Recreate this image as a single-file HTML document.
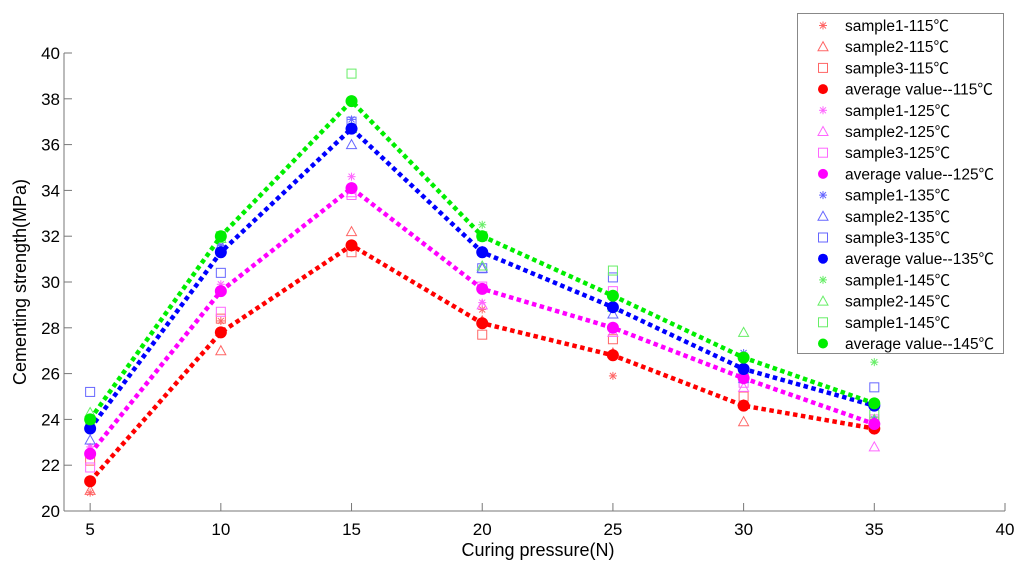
<!DOCTYPE html>
<html><head><meta charset="utf-8"><style>
html,body{margin:0;padding:0;background:#fff}
svg{display:block;font-family:"Liberation Sans",Arial,"Noto Sans CJK SC",sans-serif}
</style></head><body>
<svg id="chart" width="1024" height="569" viewBox="0 0 1024 569" xmlns="http://www.w3.org/2000/svg">
<g id="axes"></g>
<g id="series"></g>
<g id="legend"></g>
</svg>
<script>
const pressures = [5, 10, 15, 20, 25, 30, 35];
const xTicks = [5, 10, 15, 20, 25, 30, 35, 40];
const yTicks = [20, 22, 24, 26, 28, 30, 32, 34, 36, 38, 40];
const temps = ['115', '125', '135', '145'];
const avg115 = [21.3, 27.8, 31.6, 28.2, 26.8, 24.6, 23.6];
const avg125 = [22.5, 29.6, 34.1, 29.7, 28.0, 25.8, 23.8];
const avg135 = [23.6, 31.3, 36.7, 31.3, 28.9, 26.2, 24.6];
const avg145 = [24.0, 32.0, 37.9, 32.0, 29.4, 26.7, 24.7];
const s1_115 = [20.8, 28.3, 31.5, 28.8, 25.9, 24.7, 23.7];
const s2_115 = [20.9, 27.0, 32.2, 28.3, 26.9, 23.9, 23.8];
const s3_115 = [22.2, 28.4, 31.3, 27.7, 27.5, 25.0, 23.9];
const s1_125 = [22.8, 29.9, 34.6, 29.1, 28.0, 25.7, 23.5];
const s2_125 = [22.7, 29.7, 33.9, 29.0, 27.8, 25.4, 22.8];
const s3_125 = [21.9, 28.7, 33.8, 29.8, 29.6, 25.6, 24.0];
const s1_135 = [22.4, 31.6, 37.1, 31.4, 28.9, 26.9, 24.0];
const s2_135 = [23.1, 31.6, 36.0, 30.6, 28.6, 25.8, 23.9];
const s3_135 = [25.2, 30.4, 37.0, 30.6, 30.2, 25.8, 25.4];
const s1_145 = [23.7, 31.9, 36.8, 32.5, 28.9, 26.8, 26.5];
const s2_145 = [24.3, 31.9, 36.7, 30.7, 28.9, 27.8, 24.0];
const s3_145 = [23.8, 32.0, 39.1, 32.0, 30.5, 26.0, 24.2];

const NS = 'http://www.w3.org/2000/svg';
const X0 = 64, X1 = 1005, Y0 = 511, Y1 = 53;
const xs = v => X0 + (v - 4) / 36 * (X1 - X0);
const ys = v => Y0 - (v - 20) / 20 * (Y0 - Y1);
function mk(tag, attrs, parent) {
  const e = document.createElementNS(NS, tag);
  for (const k in attrs) e.setAttribute(k, attrs[k]);
  parent.appendChild(e);
  return e;
}
const axes = document.getElementById('axes');
const ser = document.getElementById('series');
const leg = document.getElementById('legend');

let ax = mk('line', {x1: X0, y1: Y0, x2: X1, y2: Y0, stroke: '#777', 'stroke-width': 1}, axes);


ax = mk('line', {x1: X0, y1: Y0, x2: X0, y2: Y1, stroke: '#777', 'stroke-width': 1}, axes);


xTicks.forEach(t => {
  mk('line', {x1: xs(t), y1: Y0, x2: xs(t), y2: Y0 - 8, stroke: '#777'}, axes);
  const tx = mk('text', {x: xs(t), y: 535, 'font-size': 17, 'text-anchor': 'middle', fill: '#000'}, axes);
  tx.textContent = t;
  
  
});
yTicks.forEach(t => {
  mk('line', {x1: X0, y1: ys(t), x2: X0 + 8, y2: ys(t), stroke: '#777'}, axes);
  const tx = mk('text', {x: 60, y: ys(t) + 6, 'font-size': 17, 'text-anchor': 'end', fill: '#000'}, axes);
  tx.textContent = t;
  
  
});
let t = mk('text', {x: 538, y: 556, 'font-size': 18, 'text-anchor': 'middle'}, axes);
t.textContent = 'Curing pressure(N)';


t = mk('text', {x: 0, y: 0, 'font-size': 18, 'text-anchor': 'middle', transform: 'translate(26,282) rotate(-90)'}, axes);
t.textContent = 'Cementing strength(MPa)';



const colors = ['#ff0000', '#ff00ff', '#0000ff', '#00ee00'];
const light = ['#ff6666', '#ff66ff', '#6666ff', '#66ee66'];
const avgs = [avg115, avg125, avg135, avg145];
const samples = [[s1_115, s2_115, s3_115], [s1_125, s2_125, s3_125], [s1_135, s2_135, s3_135], [s1_145, s2_145, s3_145]];

function marker(type, cx, cy, color, parent) {
  if (type === 0) {
    const g = mk('g', {stroke: color, 'stroke-width': 1}, parent);
    mk('line', {x1: cx - 4, y1: cy, x2: cx + 4, y2: cy}, g);
    mk('line', {x1: cx, y1: cy - 4, x2: cx, y2: cy + 4}, g);
    mk('line', {x1: cx - 3, y1: cy - 3, x2: cx + 3, y2: cy + 3}, g);
    mk('line', {x1: cx - 3, y1: cy + 3, x2: cx + 3, y2: cy - 3}, g);
    return g;
  } else if (type === 1) {
    return mk('polygon', {points: `${cx},${cy - 5} ${cx - 5},${cy + 4} ${cx + 5},${cy + 4}`, fill: 'none', stroke: color, 'stroke-width': 1}, parent);
  } else if (type === 2) {
    return mk('rect', {x: cx - 4.5, y: cy - 4.5, width: 9, height: 9, fill: 'none', stroke: color, 'stroke-width': 1}, parent);
  }
  return mk('circle', {cx: cx, cy: cy, r: 6, fill: color}, parent);
}

samples.forEach((grp, i) => {
  grp.forEach((arr, j) => {
    arr.forEach((v, k) => {
      const m = marker(j, xs(pressures[k]), ys(v), light[i], ser);
      
      
    });
  });
});
avgs.forEach((arr, i) => {
  const pts = arr.map((v, k) => xs(pressures[k]) + ',' + ys(v)).join(' ');
  const pl = mk('polyline', {points: pts, fill: 'none', stroke: colors[i], 'stroke-width': 4.5, 'stroke-dasharray': '4.5 3.5'}, ser);
  
  
  arr.forEach((v, k) => {
    const c = marker(3, xs(pressures[k]), ys(v), colors[i], ser);
    
    
  });
});

const lb = mk('rect', {x: 797.5, y: 13.5, width: 206, height: 340, fill: '#fff', stroke: '#888', 'stroke-width': 1}, leg);


const labels = [];
temps.forEach(tp => {
  labels.push(['sample1-' + tp + '℃', 0]);
  labels.push(['sample2-' + tp + '℃', 1]);
  labels.push([(tp === '145' ? 'sample1-' : 'sample3-') + tp + '℃', 2]);
  labels.push(['average value--' + tp + '℃', 3]);
});
labels.forEach((l, i) => {
  const ti = Math.floor(i / 4);
  const y = 25.5 + i * 21.2;
  const g = mk('g', {}, leg);
  
  
  const col = l[1] === 3 ? colors[ti] : light[ti];
  if (l[1] === 3) mk('circle', {cx: 823, cy: y, r: 5, fill: col}, g);
  else marker(l[1], 823, y, col, g);
  const tx = mk('text', {x: 845, y: y + 5.5, 'font-size': 15.5, fill: '#000'}, g);
  tx.textContent = l[0];
});
</script>
</body></html>
